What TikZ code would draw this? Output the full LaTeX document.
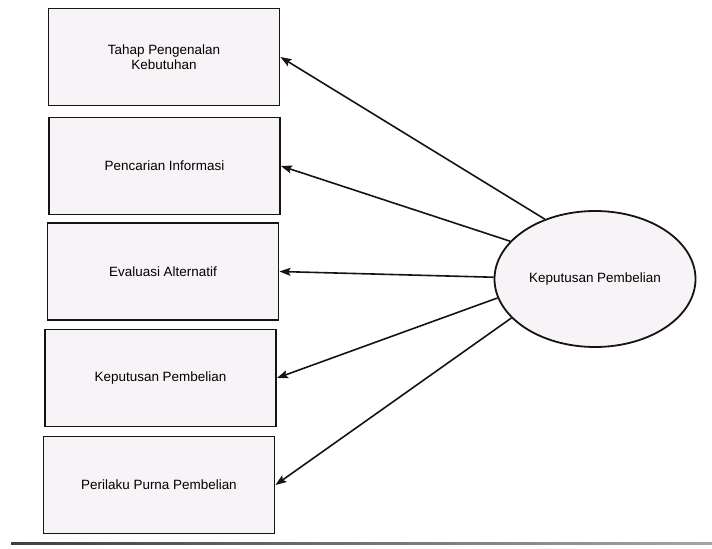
\documentclass[tikz,border=0pt]{standalone}
\usepackage{fontspec}
\setmainfont{Liberation Sans}
\usetikzlibrary{shapes.geometric,arrows.meta}
\definecolor{boxfill}{HTML}{F8F3F7}
\definecolor{inkline}{HTML}{141414}
\begin{document}
\begin{tikzpicture}[x=1bp,y=-1bp,
  every node/.style={font=\fontsize{13.5}{15}\selectfont, text=black},
  stage/.style={draw=inkline, line width=1.9bp, fill=boxfill,
    minimum width=231bp, minimum height=97bp, inner sep=0pt, align=center},
  latent/.style={draw=inkline, line width=1.8bp, fill=boxfill, ellipse,
    minimum width=201bp, minimum height=136bp, inner sep=0pt},
  loading/.style={draw=inkline, line width=1.6bp,
    -{Stealth[length=11bp,width=8bp,inset=2bp]}},
]
\useasboundingbox (0,0) rectangle (712,549);

% stages of the purchase decision
\node[stage] (b1) at (164,57)    {Tahap Pengenalan\\Kebutuhan};
\node[stage] (b2) at (164.5,166) {Pencarian Informasi};
\node[stage] (b3) at (163,271.5) {Evaluasi Alternatif};
\node[stage] (b4) at (160.5,378) {Keputusan Pembelian};
\node[stage] (b5) at (159,485)   {Perilaku Purna Pembelian};

% latent construct
\node[latent] (kp) at (595,279) {Keputusan Pembelian};

% loadings
\draw[loading] (kp.130.6) -- (b1.east);
\draw[loading] (kp.156.3) -- (b2.east);
\draw[loading] (kp.179)   -- (b3.east);
\draw[loading] (kp.191.5) -- (b4.east);
\draw[loading] (kp.205.9) -- (b5.east);

% rule under the figure
\shade[left color=black!75, right color=black!35] (11,542.5) rectangle (712,544.8);
\end{tikzpicture}
\end{document}
